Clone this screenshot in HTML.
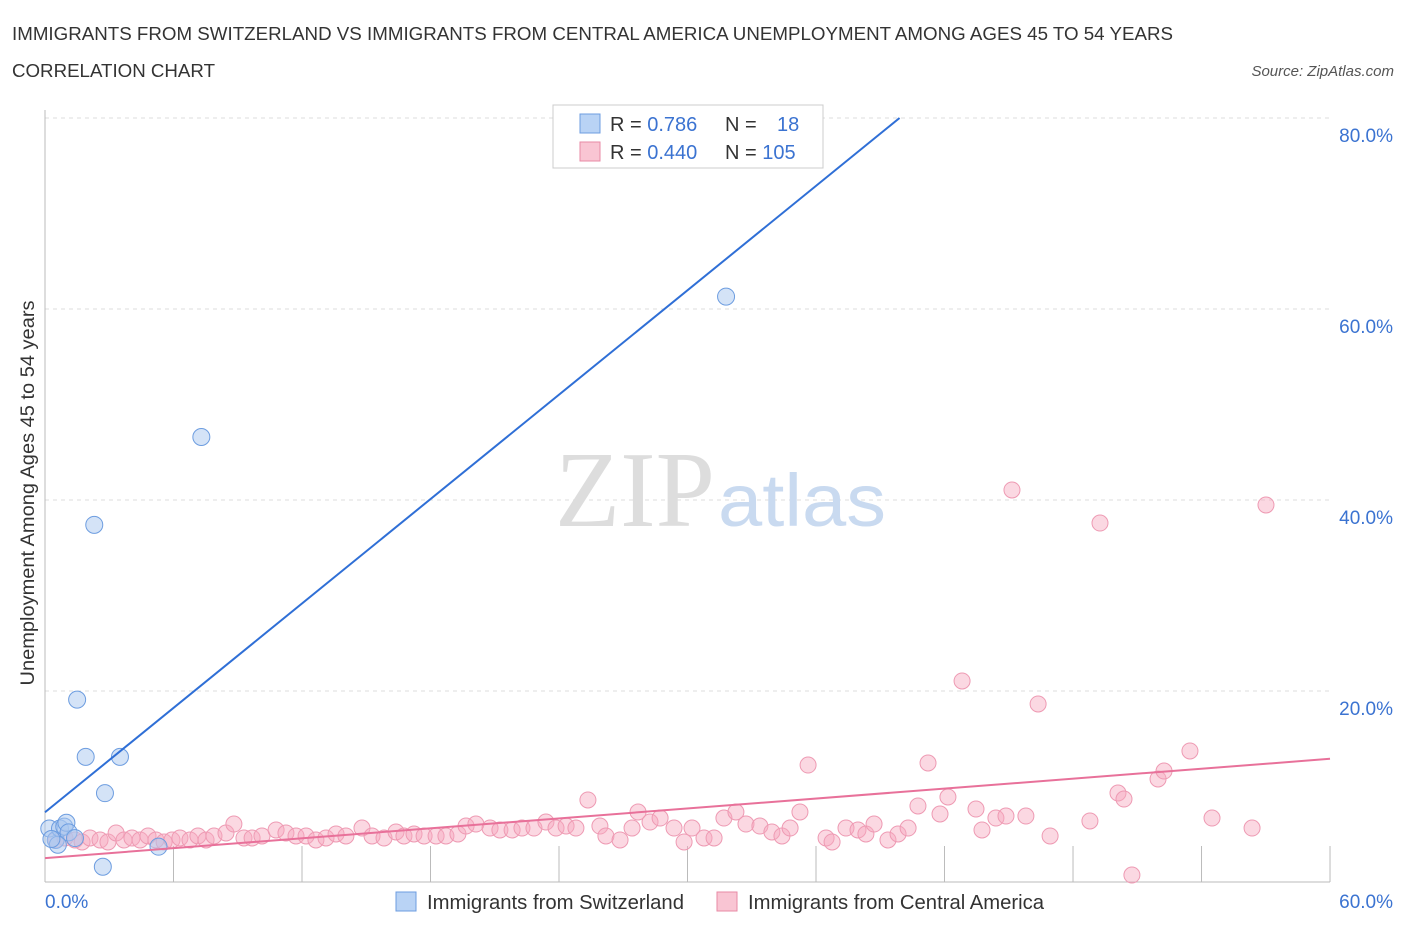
<!DOCTYPE html>
<html><head><meta charset="utf-8"><style>
body{margin:0;background:#fff;font-family:"Liberation Sans",sans-serif;}
svg{display:block}
</style></head><body>
<svg width="1406" height="930" xmlns="http://www.w3.org/2000/svg">
<text x="12" y="40" font-size="18" fill="#333" textLength="1161" lengthAdjust="spacingAndGlyphs">IMMIGRANTS FROM SWITZERLAND VS IMMIGRANTS FROM CENTRAL AMERICA UNEMPLOYMENT AMONG AGES 45 TO 54 YEARS</text>
<text x="12" y="77" font-size="18" fill="#333" textLength="203" lengthAdjust="spacingAndGlyphs">CORRELATION CHART</text>
<text x="1394" y="76" font-size="15" fill="#555" text-anchor="end" font-style="italic">Source: ZipAtlas.com</text>
<g id="grid"></g>
<text x="555" y="526" font-size="108" fill="#ddd" font-family="Liberation Serif,serif" textLength="160" lengthAdjust="spacingAndGlyphs">ZIP</text>
<text x="718" y="526" font-size="74" fill="#c9daf0" textLength="168" lengthAdjust="spacingAndGlyphs">atlas</text>
<g id="pts"></g>
<g id="lines"></g>
<text x="34" y="493" font-size="19" fill="#333" text-anchor="middle" textLength="385" lengthAdjust="spacingAndGlyphs" transform="rotate(-90 34 493)">Unemployment Among Ages 45 to 54 years</text>
<text x="45" y="908" font-size="19" fill="#3b73d1">0.0%</text>
<text x="1393" y="908" font-size="19" fill="#3b73d1" text-anchor="end">60.0%</text>
<g>
<rect x="553" y="105" width="270" height="63" fill="#fff" stroke="#ccc"/>
<rect x="580" y="114" width="20" height="19" fill="#b9d3f5" stroke="#6d9de0"/>
<rect x="580" y="142" width="20" height="19" fill="#f9c5d3" stroke="#e88aa6"/>
<text x="610" y="131" font-size="20" fill="#333">R = <tspan fill="#3b73d1">0.786</tspan></text>
<text x="725" y="131" font-size="20" fill="#333">N = <tspan fill="#3b73d1" x="777">18</tspan></text>
<text x="610" y="159" font-size="20" fill="#333">R = <tspan fill="#3b73d1">0.440</tspan></text>
<text x="725" y="159" font-size="20" fill="#333">N = <tspan fill="#3b73d1">105</tspan></text>
</g>
<g>
<rect x="396" y="892" width="20" height="19" fill="#b9d3f5" stroke="#6d9de0"/>
<text x="427" y="909" font-size="20" fill="#333" textLength="257" lengthAdjust="spacingAndGlyphs">Immigrants from Switzerland</text>
<rect x="717" y="892" width="20" height="19" fill="#f9c5d3" stroke="#e88aa6"/>
<text x="748" y="909" font-size="20" fill="#333" textLength="296" lengthAdjust="spacingAndGlyphs">Immigrants from Central America</text>
</g>
</svg>
<script>
const yTicks=[20,40,60,80];
const xTicks=[0,6,12,18,24,30,36,42,48,54,60];
const blueX=[31.8,7.3,2.3,1.5,1.9,3.5,2.8,5.3,2.7,0.2,0.5,0.7,0.9,1.0,1.1,1.4,0.6,0.3];
const blueY=[61.3,46.6,37.4,19.1,13.1,13.1,9.3,3.7,1.6,5.6,4.4,5.6,5.8,6.2,5.2,4.6,3.9,4.5];
const pinkPx=[[56,840],[65,838],[75,840],[82,842],[90,838],[100,840],[108,842],[116,833],[124,840],[132,838],[140,840],[148,836],[156,840],[164,842],[172,840],[180,838],[190,840],[198,836],[206,840],[214,836],[226,833],[234,824],[244,838],[252,838],[262,836],[276,830],[286,833],[296,836],[306,836],[316,840],[326,838],[336,834],[346,836],[362,828],[372,836],[384,838],[396,832],[404,836],[414,834],[424,836],[436,836],[446,836],[458,834],[466,826],[476,824],[490,828],[500,830],[512,830],[522,828],[534,828],[546,822],[556,828],[566,826],[576,828],[588,800],[600,826],[606,836],[620,840],[632,828],[638,812],[650,822],[660,818],[674,828],[684,842],[692,828],[704,838],[714,838],[724,818],[736,812],[746,824],[760,826],[772,832],[782,836],[790,828],[800,812],[808,765],[826,838],[832,842],[846,828],[858,830],[866,834],[874,824],[888,840],[898,834],[908,828],[918,806],[928,763],[940,814],[948,797],[962,681],[976,809],[982,830],[996,818],[1006,816],[1012,490],[1026,816],[1038,704],[1050,836],[1090,821],[1100,523],[1118,793],[1124,799],[1132,875],[1158,779],[1164,771],[1190,751],[1212,818],[1252,828],[1266,505]];
const pinkX=pinkPx.map(p=>+((p[0]-45)/21.417).toFixed(2));
const pinkY=pinkPx.map(p=>+((882-p[1])/9.55).toFixed(2));
const blueFit=[7.3,80]; const blueFitX=[0,39.9];
const pinkFit=[2.5,12.9]; const pinkFitX=[0,60];
const X=v=>45+v*21.417, Y=v=>882-v*9.55;
const NS="http://www.w3.org/2000/svg";
function mk(t,a,p){const e=document.createElementNS(NS,t);for(const k in a)e.setAttribute(k,a[k]);p.appendChild(e);return e;}
const g=document.getElementById('grid');
yTicks.forEach(t=>{
 const l=mk('line',{x1:45,x2:1330,y1:Y(t),y2:Y(t),stroke:'#ddd','stroke-dasharray':'4,4'},g);
 
 
 const tx=mk('text',{x:1393,y:Y(t)+24,'font-size':19,fill:'#3b73d1','text-anchor':'end'},g);
 tx.textContent=t.toFixed(1)+'%';
 
 
});
const ax=mk('line',{x1:45,x2:1330,y1:882,y2:882,stroke:'#bbb'},g);


const ay=mk('line',{x1:45,x2:45,y1:110,y2:882,stroke:'#bbb'},g);


xTicks.forEach(t=>{
 const l=mk('line',{x1:X(t),x2:X(t),y1:882,y2:t==0?882:846,stroke:'#bbb'},g);
 
 
});
const pg=document.getElementById('pts');
pinkX.forEach((x,i)=>{
 const c=mk('circle',{cx:X(x),cy:Y(pinkY[i]),r:8,fill:'rgba(246,168,190,0.45)',stroke:'#ee9ab3','stroke-width':1},pg);
 
 
});
blueX.forEach((x,i)=>{
 const c=mk('circle',{cx:X(x),cy:Y(blueY[i]),r:8.5,fill:'rgba(170,200,240,0.5)',stroke:'#6d9de0','stroke-width':1},pg);
 
 
});
const lg=document.getElementById('lines');
const bl=mk('line',{x1:X(blueFitX[0]),y1:Y(blueFit[0]),x2:X(blueFitX[1]),y2:Y(blueFit[1]),stroke:'#2f6fd6','stroke-width':2},lg);


const pl=mk('line',{x1:X(pinkFitX[0]),y1:Y(pinkFit[0]),x2:X(pinkFitX[1]),y2:Y(pinkFit[1]),stroke:'#e8719a','stroke-width':2},lg);


</script>
</body></html>
